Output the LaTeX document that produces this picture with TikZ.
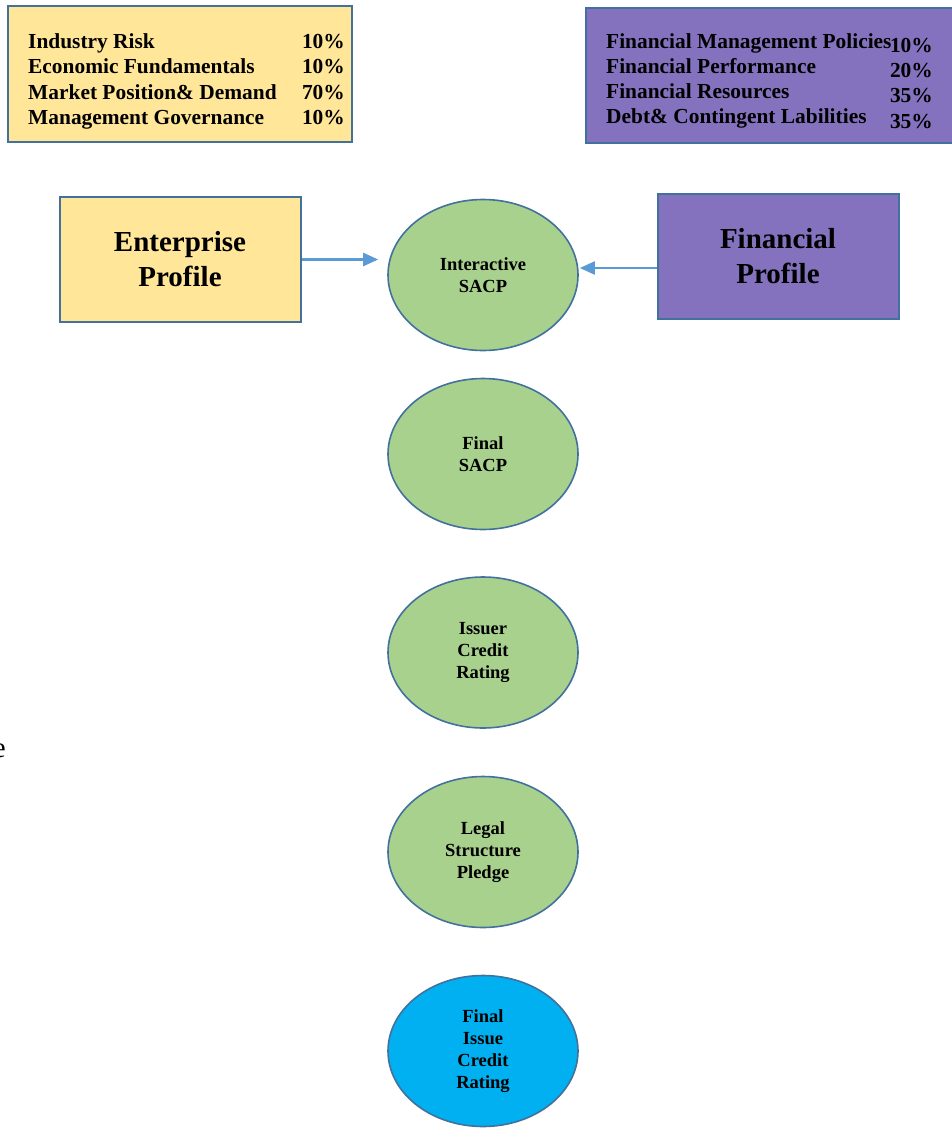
\documentclass[tikz,border=0pt]{standalone}
\usepackage{fontspec}
\setmainfont{Liberation Serif}
\usetikzlibrary{shapes.geometric,arrows.meta}
\definecolor{ylw}{HTML}{FFE699}
\definecolor{prp}{HTML}{8472BE}
\definecolor{grn}{HTML}{A9D18E}
\definecolor{cyn}{HTML}{00B0F0}
\definecolor{bord}{HTML}{41719C}
\definecolor{arrc}{HTML}{5B9BD5}
\tikzset{
  panel/.style={draw=bord, line width=2pt, inner sep=0pt},
  item/.style={anchor=base west, inner sep=0pt, font=\bfseries\fontsize{21.4}{25}\selectfont},
  pct/.style={anchor=base east, inner sep=0pt, font=\bfseries\fontsize{21.4}{25}\selectfont},
  profile/.style={panel, minimum width=241pt, minimum height=125pt, align=center, font=\bfseries\fontsize{29}{35}\selectfont},
  stage/.style={ellipse, draw=bord, line width=1.6pt, fill=grn, minimum width=190pt, minimum height=151pt, inner sep=0pt, align=center, font=\bfseries\fontsize{18.5}{22}\selectfont},
  arr/.style={draw=arrc, line width=2.4pt, -{Triangle[length=15pt,width=13pt]}}
}
\begin{document}
\begin{tikzpicture}[x=1pt,y=-1pt]
\useasboundingbox (0,0) rectangle (951,1130);
% top left weights box
\node[panel, fill=ylw, minimum width=344pt, minimum height=136pt] (lw) at (179.5,73.5) {};
\node[item] (l1) at (28,48) {Industry Risk};
\node[item] (l2) at (28,73.5) {Economic Fundamentals};
\node[item] (l3) at (28,99) {Market Position\& Demand};
\node[item] (l4) at (28,124) {Management Governance};
\node[pct] (p1) at (345,48) {10\%};
\node[pct] (p2) at (345,73.5) {10\%};
\node[pct] (p3) at (345,99) {70\%};
\node[pct] (p4) at (345,124) {10\%};
% top right weights box
\node[panel, fill=prp, minimum width=380pt, minimum height=135pt] (rw) at (776,75.5) {};
\node[item] (r1) at (606,48) {Financial Management Policies};
\node[item] (r2) at (606,73) {Financial Performance};
\node[item] (r3) at (606,98) {Financial Resources};
\node[item] (r4) at (606,123) {Debt\& Contingent Labilities};
\node[pct] (q1) at (933,52) {10\%};
\node[pct] (q2) at (933,77) {20\%};
\node[pct] (q3) at (933,102) {35\%};
\node[pct] (q4) at (933,128) {35\%};
% profiles
\node[profile, fill=ylw] (ep) at (180,259.5) {Enterprise\\Profile};
\node[profile, fill=prp] (fp) at (778,256) {Financial\\Profile};
% stages
\node[stage] (s1) at (483,275) {Interactive\\SACP};
\node[stage] (s2) at (483,454) {Final\\SACP};
\node[stage] (s3) at (483,652.5) {Issuer\\Credit\\Rating};
\node[stage] (s4) at (483,852) {Legal\\Structure\\Pledge};
\node[stage, fill=cyn] (s5) at (483,1051) {Final\\Issue\\Credit\\Rating};
% connectors
\draw[arr, shorten >=9pt] (ep.east) -- (ep.east -| s1.west);
\draw[arr, shorten >=1pt] ([yshift=-12pt]fp.west) -- ([yshift=-12pt]fp.west -| s1.east);
% clipped letter at left edge
\node[anchor=base east, inner sep=0pt, font=\fontsize{29}{35}\selectfont] (cut) at (6,757) {e};
\end{tikzpicture}
\end{document}
